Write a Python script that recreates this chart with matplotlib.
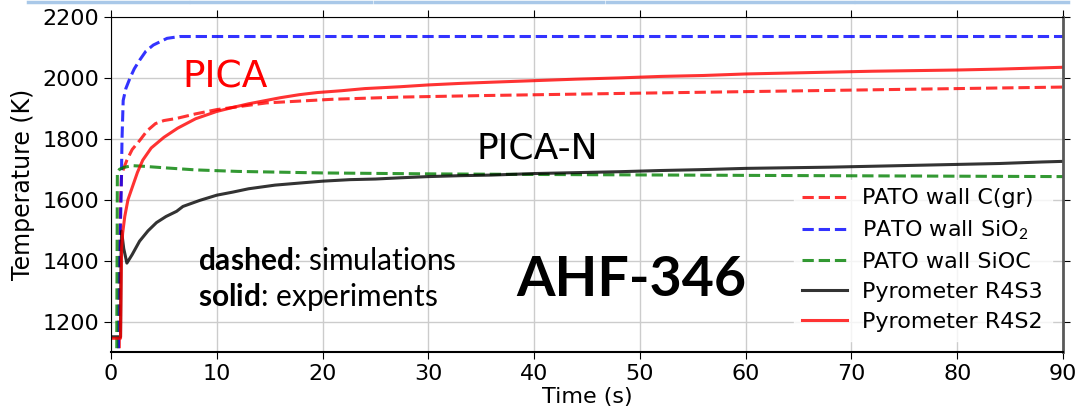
import matplotlib
matplotlib.use("Agg")
import matplotlib.pyplot as plt
from matplotlib.lines import Line2D

plt.rcParams["mathtext.fontset"] = "custom"
plt.rcParams["mathtext.bf"] = "Lato:bold"
plt.rcParams["mathtext.rm"] = "Lato"

# PATO simulations (dashed)
t_sio2 = [0.65, 0.7, 0.8, 0.95, 1.04, 1.15, 1.4, 1.8, 2.2, 2.7, 3.3, 4.0, 5.3, 6.5, 90.0]
T_sio2 = [300, 1100, 1400, 1600, 1800, 1926, 1965, 2000, 2030, 2058, 2088, 2108, 2130, 2136, 2136]

t_sioc = [0.5, 0.55, 0.6, 0.8, 1.2, 2.0, 3.0, 5.0, 8.0, 12.0, 20.0, 30.0, 40.0, 60.0, 90.0]
T_sioc = [300, 1200, 1690, 1700, 1706, 1712, 1710, 1705, 1698, 1693, 1688, 1685, 1683, 1680, 1676]

t_cgr = [0.7, 0.8, 0.9, 1.0, 1.5, 2.0, 2.7, 3.4, 4.2, 5.0, 6.2, 8.0, 10.0, 14.7, 21.0, 27.3, 35.0, 50.0, 70.0, 90.0]
T_cgr = [300, 1300, 1600, 1685, 1730, 1765, 1794, 1826, 1850, 1860, 1867, 1882, 1896, 1918, 1930, 1937, 1942, 1950, 1960, 1970]

# Pyrometer measurements (solid)
t_r4s3 = [0.0, 0.9, 0.95, 1.0, 1.2, 1.5, 2.0, 2.7, 3.5, 4.3, 5.2, 6.2, 6.8, 8.4, 10.0, 11.5, 13.0, 15.5, 17.9,
          20.0, 22.6, 25.0, 27.3, 30.0, 33.0, 36.0, 40.0, 44.0, 48.0, 52.0, 56.0, 60.0, 64.0, 68.0,
          72.0, 76.0, 80.0, 84.0, 88.0, 90.0]
T_r4s3 = [1150, 1150, 1420, 1497, 1440, 1392, 1420, 1464, 1498, 1525, 1545, 1562, 1578, 1598, 1615, 1625, 1636, 1648, 1655,
          1661, 1666, 1668, 1672, 1676, 1679, 1681, 1686, 1689, 1692, 1696, 1699, 1703, 1705, 1707,
          1710, 1713, 1716, 1719, 1724, 1726]

t_r4s2 = [0.0, 0.9, 0.95, 1.0, 1.1, 1.3, 1.6, 2.0, 2.5, 3.0, 3.8, 5.0, 6.3, 8.0, 10.0, 11.5, 13.0, 14.5, 16.0,
          17.8, 19.5, 21.8, 24.0, 27.3, 30.0, 33.0, 36.0, 40.0, 44.0, 48.0, 52.0, 56.0, 60.0, 64.0, 68.0,
          72.0, 76.0, 80.0, 84.0, 88.0, 90.0]
T_r4s2 = [1145, 1145, 1300, 1440, 1490, 1545, 1600, 1640, 1690, 1730, 1770, 1805, 1835, 1866, 1890, 1903, 1915, 1925, 1935,
          1945, 1952, 1958, 1965, 1971, 1977, 1982, 1986, 1991, 1996, 2000, 2005, 2008, 2013, 2016, 2019,
          2022, 2024, 2026, 2029, 2033, 2035]

fig = plt.figure(figsize=(10.81, 4.12), dpi=100)
ax = fig.add_axes([0.1027, 0.1456, 0.8807, 0.8131])

ax.plot(t_cgr, T_cgr, "--", color="r", alpha=0.8, lw=2.2, label="PATO wall C(gr)")
ax.plot(t_sio2, T_sio2, "--", color="b", alpha=0.8, lw=2.2, label="PATO wall SiO$_2$")
ax.plot(t_sioc, T_sioc, "--", color="g", alpha=0.8, lw=2.2, label="PATO wall SiOC")
ax.plot(t_r4s3, T_r4s3, "-", color="k", alpha=0.8, lw=2.2, label="Pyrometer R4S3")
ax.plot(t_r4s2, T_r4s2, "-", color="r", alpha=0.8, lw=2.2, label="Pyrometer R4S2")

ax.set_xlim(0, 90)
ax.set_ylim(1100, 2200)
ax.set_xticks(range(0, 91, 10))
ax.set_yticks(range(1200, 2201, 200))
ax.grid(True, color="0.8", lw=1)
ax.tick_params(labelsize=16, direction="out", top=True, right=True, length=5)
ax.spines["right"].set_color("0.35")
ax.spines["right"].set_linewidth(2)
ax.spines["bottom"].set_linewidth(1.5)

ax.set_xlabel("Time (s)", fontsize=16, labelpad=2)
ax.set_ylabel("Temperature (K)", fontsize=17, labelpad=5)

ax.text(10.8, 2000, "PICA", color="red", fontsize=27, ha="center", va="center")
ax.text(40.3, 1768, "PICA-N", color="black", fontsize=26, ha="center", va="center")
ax.text(8.2, 1400, r"$\bf{dashed}$: simulations", fontsize=21.5, family="Lato", va="center")
ax.text(8.2, 1282, r"$\bf{solid}$: experiments", fontsize=21.5, family="Lato", va="center")
ax.text(49.2, 1335, "AHF-346", fontsize=40, family="Lato", weight="bold", ha="center", va="center")

ax.legend(loc="lower right", fontsize=16, frameon=True, framealpha=0.8, edgecolor="white",
          handlelength=2.0, handletextpad=0.7, labelspacing=0.45, borderaxespad=0.5)

# light blue borders at the very top of the slide crop
for x0, x1 in [(28, 188), (191, 371), (375, 603), (607, 853), (856, 1068)]:
    fig.add_artist(Line2D([x0 / 1081, x1 / 1081], [1 - 1.5 / 412] * 2, color="#a9c8e8", lw=2.5,
                          transform=fig.transFigure))

fig.savefig("out.png", dpi=100)
